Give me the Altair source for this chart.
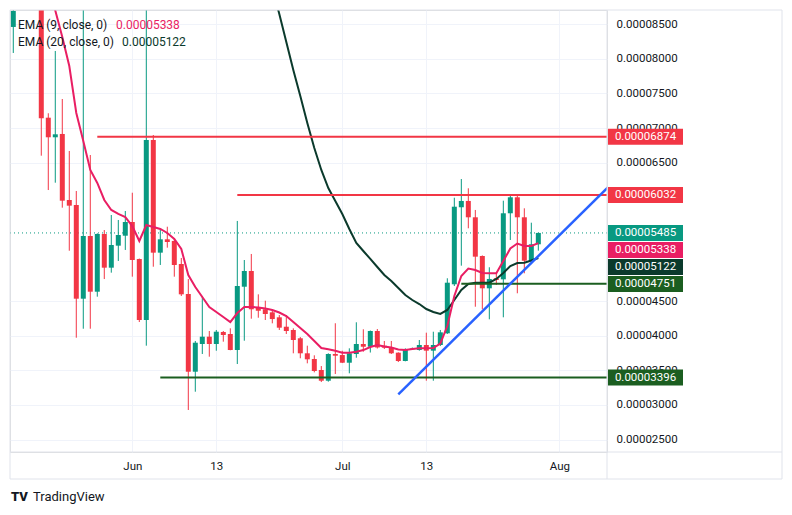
import altair as alt
import pandas as pd

# ---------------- data (prices in units of 1e-8) ----------------
REF_DAY = pd.Timestamp("2024-06-01")
SCALE = 1e-8

candle_dates = ["2024-05-15"] + [d.strftime("%Y-%m-%d") for d in pd.date_range("2024-05-19", "2024-07-29")]

opens = [8461,
         9200, 7150, 6867, 6915, 5961, 5889, 4535, 5441, 4636, 5470,
         4983, 5301, 5445, 5643, 5108, 4227, 6828, 5200, 5393, 5369,
         5036, 4603, 3480, 3880, 3986, 3880, 4054, 4025, 3794, 4708,
         4935, 4410, 4382, 4338, 4266, 4130, 4083, 3963, 3746, 3664,
         3505, 3350, 3736, 3721, 3610, 3736, 3880, 3841, 4068, 3856,
         3827, 3755, 3635, 3804, 3794, 3866, 3784, 3866, 4035, 4743,
         5856, 5947, 5711, 5152, 4685, 4830, 4815, 5769, 6000, 5711,
         5084, 5321]
highs = [8750,
         9300, 7214, 8114, 7420, 6669, 6091, 8900, 6611, 5480, 5527,
         5744, 5672, 5802, 6066, 5115, 8900, 6900, 5528, 5575, 5412,
         5123, 4819, 3924, 4564, 4068, 4083, 4068, 4107, 5658, 5094,
         5181, 4598, 4506, 4372, 4299, 4299, 4107, 3981, 3856, 3717,
         3562, 3746, 4180, 3783, 3818, 4194, 4093, 4075, 4097, 3924,
         3924, 3760, 3818, 3830, 3938, 4044, 4058, 4083, 4830, 5994,
         6264, 6130, 5817, 5160, 4989, 4902, 5951, 6019, 6019, 5841,
         5633, 5489]
lows = [8085,
        6601, 6105, 6211, 5850, 5228, 3971, 4101, 4101, 4564, 4819,
        4911, 5080, 5239, 4853, 4198, 3856, 4997, 5022, 5272, 4853,
        4574, 2927, 3191, 3736, 3697, 3783, 3914, 3790, 3591, 3928,
        4246, 4260, 4227, 4179, 4083, 4025, 3746, 3674, 3601, 3471,
        3331, 3336, 3447, 3605, 3457, 3682, 3769, 3757, 3815, 3808,
        3736, 3620, 3630, 3795, 3784, 3350, 3350, 3851, 4025, 4718,
        5012, 5552, 4419, 4382, 4237, 4733, 4266, 5383, 4613, 4902,
        5065, 5229]
closes = [8692,
          7142, 6867, 6910, 5951, 5879, 4535, 5441, 4636, 5470, 4983,
          5311, 5455, 5643, 5094, 4227, 6828, 5200, 5393, 5354, 5022,
          4598, 3480, 3899, 3986, 3880, 4058, 4010, 3794, 4718, 4935,
          4382, 4361, 4314, 4241, 4116, 4068, 3938, 3746, 3659, 3490,
          3350, 3736, 3711, 3610, 3746, 3880, 3841, 4068, 3830, 3827,
          3746, 3635, 3804, 3815, 3866, 3784, 3866, 4049, 4766, 5864,
          5947, 5711, 5142, 4685, 4820, 4805, 5769, 6000, 5711, 5084,
          5321, 5485]

ema9_start = "2024-05-20"
ema9 = [9050, 8700, 8316, 7897, 7218, 6814, 6395, 6207, 5961, 5817, 5759, 5715,
        5585, 5369, 5600, 5571, 5542, 5484, 5398, 5253, 4877, 4704, 4559, 4415,
        4343, 4270, 4198, 4328, 4415, 4415, 4408, 4393, 4372, 4335, 4285, 4198,
        4111, 4025, 3924, 3822, 3804, 3783, 3754, 3754, 3769, 3793, 3837, 3866,
        3844, 3830, 3801, 3794, 3808, 3818, 3818, 3822, 3888, 4140, 4574, 4863,
        4971, 4950, 4906, 4902, 4902, 5080, 5260, 5332, 5296, 5296, 5338]

ema20_start = "2024-06-21"
ema20 = [9025, 8649, 8244, 7840, 7463, 7074, 6712, 6395, 6134, 5947, 5759, 5542,
         5340, 5224, 5109, 4993, 4877, 4791, 4689, 4588, 4516, 4458, 4386, 4343,
         4314, 4372, 4516, 4661, 4747, 4766, 4766, 4766, 4820, 4906, 5007, 5051,
         5055, 5087, 5122]

level_values = [6874, 6032, 4751, 3396]
level_starts = ["2024-05-27", "2024-06-16", "2024-07-18", "2024-06-05"]

trend_dates = ["2024-07-09", "2024-08-08"]
trend_values = [3153, 6150]

tick_dates = ["2024-06-01", "2024-06-13", "2024-07-01", "2024-07-13", "2024-08-01"]
price_ticks = list(range(2500, 8501, 500))

# ---------------- style ----------------
UP = "#089981"
DOWN = "#f23645"
PINK = "#e91e63"
EMA_DARK = "#0b3a2c"
LVL_GREEN = "#1b5e20"
BLUE = "#2962ff"
GRID = "#f0f3fa"
FRAME = "#e0e3eb"
TXT = "#131722"
FONT = "Roboto"

PLOT_W, PLOT_H = 597, 442
X_DOMAIN = [-17.47, 67.81]
Y_DOMAIN = [2320 * SCALE, 8706 * SCALE]


def dnum(s):
    return (pd.Timestamp(s) - REF_DAY).days


# ---------------- frames ----------------
cdf = pd.DataFrame({
    "d": [dnum(s) for s in candle_dates],
    "open": [v * SCALE for v in opens],
    "high": [v * SCALE for v in highs],
    "low": [v * SCALE for v in lows],
    "close": [v * SCALE for v in closes],
})

e9 = pd.DataFrame({"d": [dnum(ema9_start) + i for i in range(len(ema9))],
                   "v": [v * SCALE for v in ema9]})
e20 = pd.DataFrame({"d": [dnum(ema20_start) + i for i in range(len(ema20))],
                    "v": [v * SCALE for v in ema20]})

lvl_colors = [DOWN, DOWN, LVL_GREEN, LVL_GREEN]
ldf = pd.DataFrame({
    "start": [dnum(s) for s in level_starts],
    "end": [X_DOMAIN[1]] * len(level_values),
    "v": [v * SCALE for v in level_values],
    "col": lvl_colors,
})

tdf = pd.DataFrame({"d": [dnum(s) for s in trend_dates], "v": [v * SCALE for v in trend_values]})

last_df = pd.DataFrame({"x0": [X_DOMAIN[0]], "x1": [X_DOMAIN[1]], "v": [closes[-1] * SCALE]})

# price tags with simple collision avoidance
tags = [(level_values[0], DOWN), (level_values[1], DOWN), (closes[-1], UP),
        (ema9[-1], PINK), (ema20[-1], EMA_DARK), (level_values[2], LVL_GREEN),
        (level_values[3], LVL_GREEN)]
tags.sort(key=lambda t: -t[0])
units_per_px = (Y_DOMAIN[1] - Y_DOMAIN[0]) / PLOT_H
gap = 17 * units_per_px
half = 8 * units_per_px
rows = []
prev = None
for val, col in tags:
    p = val * SCALE
    if prev is not None and p > prev - gap:
        p = prev - gap
    prev = p
    rows.append({"pos": p, "top": p + half, "bot": p - half, "col": col,
                 "label": f"{val * SCALE:.8f}"})
tagdf = pd.DataFrame(rows)

# axis labels that sit fully under a tag are hidden (as the price scale does)
shown_ticks = [t for t in price_ticks
               if all(abs(t * SCALE - r["pos"]) > 5 * units_per_px for r in rows)]

one = pd.DataFrame({"a": [0]})

# ---------------- encodings ----------------
tick_d = [dnum(s) for s in tick_dates]
tick_lbl = [pd.Timestamp(s).strftime("%b") if pd.Timestamp(s).day == 1 else str(pd.Timestamp(s).day)
            for s in tick_dates]
x_expr = " : ".join(f"datum.value == {d} ? '{l}'" for d, l in zip(tick_d, tick_lbl)) + " : ''"

xscale = alt.Scale(domain=X_DOMAIN, nice=False, zero=False, padding=0)
yscale = alt.Scale(domain=Y_DOMAIN, nice=False, zero=False, padding=0)
xaxis = alt.Axis(values=tick_d, labelExpr=x_expr, grid=True, gridColor=GRID, domain=False,
                 ticks=False, labelPadding=8, labelFontSize=11.5, labelColor=TXT, labelFont=FONT,
                 title=None, zindex=0, labelFlush=False)
yaxis = alt.Axis(orient="right", values=[v * SCALE for v in shown_ticks],
                 labelExpr="format(datum.value, '.8f')", grid=True, gridColor=GRID, domain=False,
                 ticks=False, labelPadding=9, labelFontSize=11.5, labelColor=TXT, labelFont=FONT,
                 labelAlign="left", labelBaseline="middle", title=None, zindex=0, labelOverlap=False)


def X(f):
    return alt.X(f, scale=xscale, axis=xaxis)


def Y(f):
    return alt.Y(f, scale=yscale, axis=yaxis)


updown = alt.condition(alt.datum.close >= alt.datum.open, alt.value(UP), alt.value(DOWN))

dotted = alt.Chart(last_df).mark_rule(color=UP, strokeWidth=1, strokeDash=[1, 3]).encode(
    x=X("x0:Q"), x2="x1:Q", y=Y("v:Q"))

wicks = alt.Chart(cdf).mark_rule(strokeWidth=1, clip=True).encode(
    x=X("d:Q"), y=Y("low:Q"), y2="high:Q", color=updown)
bodies = alt.Chart(cdf).mark_bar(width=5, clip=True).encode(
    x=X("d:Q"), y=Y("open:Q"), y2="close:Q", color=updown)

l20 = alt.Chart(e20).mark_line(color=EMA_DARK, strokeWidth=2, clip=True).encode(x=X("d:Q"), y=Y("v:Q"))
l9 = alt.Chart(e9).mark_line(color=PINK, strokeWidth=2, clip=True).encode(x=X("d:Q"), y=Y("v:Q"))

levels = alt.Chart(ldf).mark_rule(strokeWidth=2, clip=True).encode(
    x=X("start:Q"), x2="end:Q", y=Y("v:Q"), color=alt.Color("col:N", scale=None))

trend = alt.Chart(tdf).mark_line(color=BLUE, strokeWidth=2.5, clip=True).encode(x=X("d:Q"), y=Y("v:Q"))

tag_rect = alt.Chart(tagdf).mark_rect().encode(
    x=alt.value(PLOT_W + 1), x2=alt.value(PLOT_W + 76),
    y=Y("top:Q"), y2="bot:Q", color=alt.Color("col:N", scale=None))
tag_text = alt.Chart(tagdf).mark_text(align="center", baseline="middle", color="white",
                                      fontSize=11.5, font=FONT).encode(
    x=alt.value(PLOT_W + 38.5), y=Y("pos:Q"), text="label:N")

# legend texts
leg1a = alt.Chart(one).mark_text(align="left", baseline="middle", fontSize=12, font=FONT, color=TXT).encode(
    x=alt.value(8), y=alt.value(15), text=alt.value("EMA (9, close, 0)"))
leg1b = alt.Chart(one).mark_text(align="left", baseline="middle", fontSize=12, font=FONT, color=PINK).encode(
    x=alt.value(106), y=alt.value(15), text=alt.value(f"{ema9[-1] * SCALE:.8f}"))
leg2a = alt.Chart(one).mark_text(align="left", baseline="middle", fontSize=12, font=FONT, color=TXT).encode(
    x=alt.value(8), y=alt.value(31.5), text=alt.value("EMA (20, close, 0)"))
leg2b = alt.Chart(one).mark_text(align="left", baseline="middle", fontSize=12, font=FONT, color=EMA_DARK).encode(
    x=alt.value(112), y=alt.value(31.5), text=alt.value(f"{ema20[-1] * SCALE:.8f}"))


# outer frame and separators
def hline(y, x0, x1):
    return alt.Chart(one).mark_rule(color=FRAME, strokeWidth=1).encode(
        x=alt.value(x0), x2=alt.value(x1), y=alt.value(y))


def vline(x, y0, y1):
    return alt.Chart(one).mark_rule(color=FRAME, strokeWidth=1).encode(
        x=alt.value(x), y=alt.value(y0), y2=alt.value(y1))


frame = (hline(0, 0, 772) + hline(469, 0, 772) + hline(PLOT_H, 0, 772) +
         vline(0, 0, 469) + vline(772, 0, 469) + vline(PLOT_W, 0, 469))

logo = alt.Chart(one).mark_text(align="left", baseline="middle", fontSize=13, font=FONT,
                                fontWeight=900, color=TXT).encode(
    x=alt.value(1), y=alt.value(487), text=alt.value("TV"))
brand = alt.Chart(one).mark_text(align="left", baseline="middle", fontSize=13, font=FONT, color=TXT).encode(
    x=alt.value(23), y=alt.value(487), text=alt.value("TradingView"))

chart = alt.layer(
    dotted, wicks, bodies, l20, l9, levels, trend, tag_rect, tag_text,
    leg1a, leg1b, leg2a, leg2b, frame, logo, brand
).properties(
    width=PLOT_W, height=PLOT_H,
    autosize=alt.AutoSizeParams(type="none"),
    padding={"left": 10, "top": 10, "right": 185, "bottom": 63},
    background="white",
).configure_view(stroke=None).configure(font=FONT)

chart.save("out.html", embed_options={"renderer": "svg", "actions": False})
